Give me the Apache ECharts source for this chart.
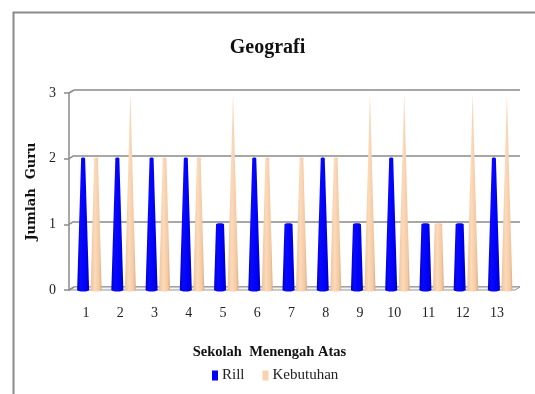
<!DOCTYPE html>
<html>
<head>
<meta charset="utf-8">
<script src="https://cdn.jsdelivr.net/npm/echarts@6/dist/echarts.min.js"></script>
<style>
  html, body { margin: 0; padding: 0; background: #fff; }
  #chart { width: 535px; height: 394px; }
</style>
</head>
<body>
<div id="chart"></div>
<script>
// School numbers along the x axis
const categories = ['1', '2', '3', '4', '5', '6', '7', '8', '9', '10', '11', '12', '13'];
// Teachers actually present (Rill) and teachers needed (Kebutuhan)
const rill = [2, 2, 2, 2, 1, 2, 1, 2, 1, 2, 1, 1, 2];
const kebutuhan = [2, 3, 2, 2, 3, 2, 2, 2, 3, 3, 1, 3, 3];
// Value axis ticks
const yTicks = [0, 1, 2, 3];

const SERIF = '"Liberation Serif", "DejaVu Serif", serif';
const Y_MAX = 3;
const DEPTH_X = 5, DEPTH_Y = -3;   // offset of the back wall

// Cone that tapers to a point at the axis maximum, cut off at its value
function coneRenderer(offset, halfBase, stops) {
  return function (params, api) {
    const idx = api.value(0);
    const v = api.value(1);
    const base = api.coord([idx, 0]);
    const top = api.coord([idx, v]);
    const apex = api.coord([idx, Y_MAX]);
    const cx = base[0] + offset;
    const frac = (base[1] - top[1]) / (base[1] - apex[1]);
    const topHalf = halfBase * (1 - frac);
    const fill = new echarts.graphic.LinearGradient(0, 0, 1, 0, stops);
    const children = [
      { type: 'ellipse', shape: { cx: cx, cy: base[1], rx: halfBase, ry: 1.5 }, style: { fill: fill } },
      { type: 'polygon', shape: { points: [
          [cx - halfBase, base[1]], [cx + halfBase, base[1]],
          [cx + topHalf, top[1]], [cx - topHalf, top[1]] ] },
        style: { fill: fill } }
    ];
    if (topHalf > 0.6) {
      children.push({ type: 'ellipse', shape: { cx: cx, cy: top[1], rx: topHalf, ry: 1.2 },
        style: { fill: fill } });
    }
    return { type: 'group', children: children };
  };
}

const blueStops = [
  { offset: 0, color: '#0000c8' }, { offset: 0.3, color: '#0808ff' },
  { offset: 0.75, color: '#0000f5' }, { offset: 1, color: '#0000b8' }
];
const peachStops = [
  { offset: 0, color: '#efc39a' }, { offset: 0.4, color: '#fcdabb' },
  { offset: 0.8, color: '#f3c9a2' }, { offset: 1, color: '#d6a982' }
];

const chart = echarts.init(document.getElementById('chart'), null, { renderer: 'canvas' });

chart.setOption({
  animation: false,
  backgroundColor: '#fff',
  title: {
    text: 'Geografi', left: 'center', top: 33,
    textStyle: { fontFamily: SERIF, fontWeight: 'bold', fontSize: 20, color: '#111' }
  },
  legend: {
    bottom: 6, left: 207, itemWidth: 6, itemHeight: 10, itemGap: 18,
    icon: 'rect',
    textStyle: { fontFamily: SERIF, fontSize: 15, color: '#222', padding: [0, 0, 0, -1] },
    data: ['Rill', 'Kebutuhan']
  },
  graphic: [{
    type: 'rect', left: 11, top: 10, z: -10,
    shape: { width: 600, height: 500 },
    style: { fill: 'none', stroke: '#8a8a8a', lineWidth: 2 }
  }],
  grid: [
    { left: 69, right: 21, top: 93, bottom: 104 },
    { left: 69 + DEPTH_X, right: 21 - DEPTH_X - 1, top: 93 + DEPTH_Y, bottom: 104 - DEPTH_Y }
  ],
  xAxis: [{
    gridIndex: 0, type: 'category', data: categories,
    axisLine: { show: false }, axisTick: { show: false },
    axisLabel: { fontFamily: SERIF, fontSize: 14, color: '#222', margin: 16 },
    name: 'Sekolah  Menengah Atas', nameLocation: 'middle', nameGap: 55,
    nameTextStyle: { fontFamily: SERIF, fontWeight: 'bold', fontSize: 14.5, color: '#111',
      padding: [0, 44, 0, 0] }
  }, {
    gridIndex: 1, type: 'category', data: categories, show: false
  }],
  yAxis: [{
    gridIndex: 0, type: 'value', min: 0, max: Y_MAX, interval: 1,
    axisLine: { show: true, lineStyle: { color: '#8a8a8a', width: 1.5 } },
    axisTick: { show: true, length: 5, lineStyle: { color: '#8a8a8a', width: 1.5 } },
    splitLine: { show: false },
    axisLabel: { fontFamily: SERIF, fontSize: 14, color: '#222', margin: 13 },
    name: 'Jumlah  Guru', nameLocation: 'middle', nameGap: 30, nameRotate: 90,
    nameTextStyle: { fontFamily: '"DejaVu Serif", serif', fontWeight: 'bold', fontSize: 13, color: '#111' }
  }, {
    gridIndex: 1, type: 'value', min: 0, max: Y_MAX, interval: 1,
    axisLine: { show: false }, axisTick: { show: false }, axisLabel: { show: false },
    splitLine: { show: true, lineStyle: { color: '#8a8a8a', width: 1.5 } }
  }],
  series: [
    {
      // floor of the plot box plus the slanted joins from the front axis to the back wall
      type: 'custom', xAxisIndex: 0, yAxisIndex: 0, silent: true, z: 1,
      data: yTicks.map(function (t) { return [0, t]; }),
      renderItem: function (params, api) {
        const t = api.value(1);
        const band = api.size([1, 0])[0];
        const p = api.coord([0, t]);
        const x0 = p[0] - band / 2;
        const children = [{
          type: 'line',
          shape: { x1: x0, y1: p[1], x2: x0 + DEPTH_X, y2: p[1] + DEPTH_Y },
          style: { stroke: '#8a8a8a', lineWidth: 1.5 }
        }];
        if (t === 0) {
          const last = api.coord([categories.length - 1, 0]);
          const x1 = last[0] + band / 2 + 1;
          children.unshift({
            type: 'polygon',
            shape: { points: [[x0, p[1]], [x1, p[1]], [x1 + DEPTH_X, p[1] + DEPTH_Y], [x0 + DEPTH_X, p[1] + DEPTH_Y]] },
            style: { fill: '#f4f4f4', stroke: '#9a9a9a', lineWidth: 1 }
          });
        }
        return { type: 'group', children: children };
      }
    },
    {
      name: 'Rill', type: 'custom', xAxisIndex: 0, yAxisIndex: 0, z: 3,
      itemStyle: { color: '#0000ff' },
      data: rill.map(function (v, i) { return [i, v]; }),
      renderItem: coneRenderer(-3, 6, blueStops)
    },
    {
      name: 'Kebutuhan', type: 'custom', xAxisIndex: 0, yAxisIndex: 0, z: 3,
      itemStyle: { color: '#fad2ae' },
      data: kebutuhan.map(function (v, i) { return [i, v]; }),
      renderItem: coneRenderer(10, 5.5, peachStops)
    }
  ]
});
</script>
</body>
</html>
